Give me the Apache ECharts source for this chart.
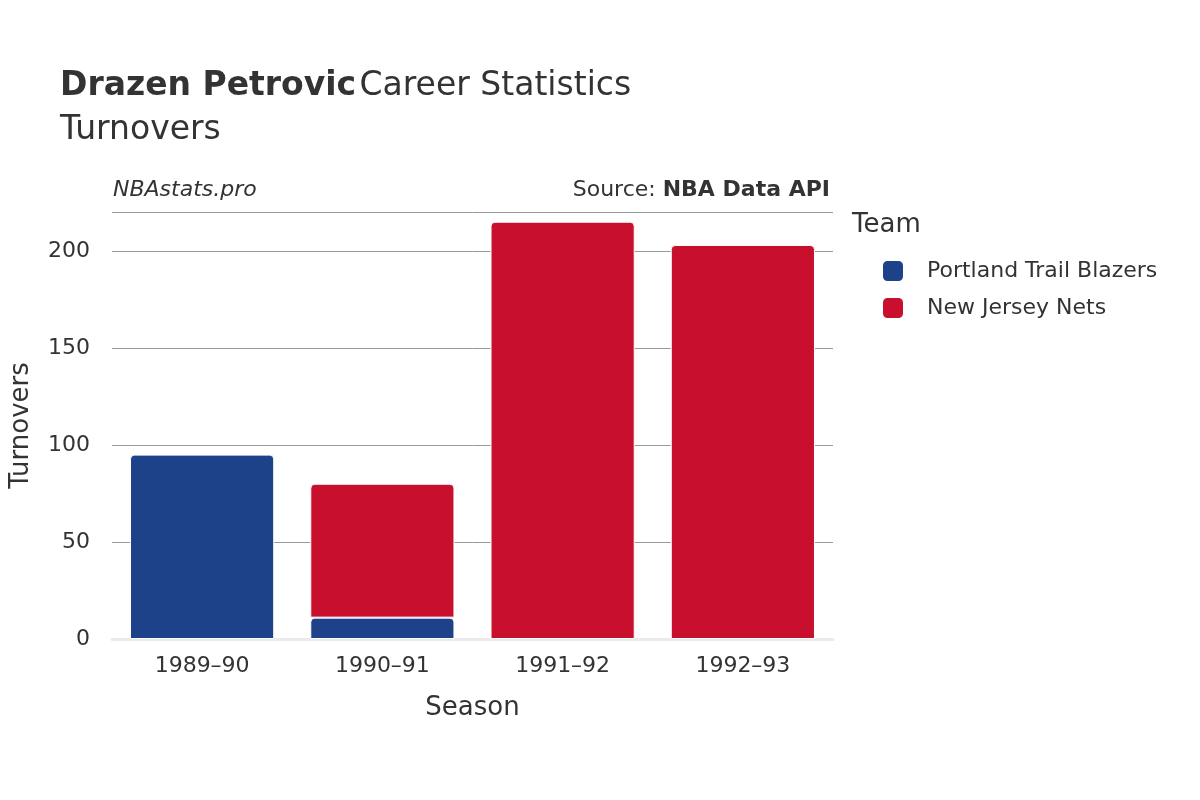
<!DOCTYPE html>
<html style="height: 100%">
<head>
  <meta charset="utf-8">
  <script src="https://cdn.jsdelivr.net/npm/echarts@6/dist/echarts.min.js"></script>
  <style>
    body { height: 100%; margin: 0; background: #fff; }
  </style>
</head>
<body>
  <div id="chart" style="width:1200px;height:800px;"></div>
  <script>
    var seasons = ['1989–90', '1990–91', '1991–92', '1992–93'];
    var portland = [95, 11, null, null];
    var nets = [null, 69, 215, 203];
    var yTicks = [0, 50, 100, 150, 200];

    var font = '"DejaVu Sans", sans-serif';
    var chart = echarts.init(document.getElementById('chart'));
    var barStyle = function (color) {
      return { color: color, borderColor: '#fff', borderWidth: 1, borderRadius: [4, 4, 0, 0] };
    };
    chart.setOption({
      animation: false,
      textStyle: { fontFamily: font },
      grid: { left: 108, right: 367, top: 212, bottom: 161 },
      xAxis: {
        type: 'category', data: seasons,
        name: 'Season', nameLocation: 'middle', nameGap: 56,
        nameTextStyle: { fontSize: 26, color: '#333' },
        axisLine: { lineStyle: { color: '#ebebeb', width: 3 } },
        axisTick: { show: false },
        axisLabel: { fontSize: 22, color: '#333', margin: 16 }
      },
      yAxis: {
        type: 'value', min: 0, max: 220, interval: 50,
        name: 'Turnovers', nameLocation: 'middle', nameGap: 78,
        nameTextStyle: { fontSize: 26, color: '#333' },
        axisLabel: { fontSize: 22, color: '#333', margin: 22,
          formatter: function (v) { return yTicks.indexOf(v) >= 0 ? v : ''; } },
        splitLine: { lineStyle: { color: '#999' } }
      },
      legend: {
        orient: 'vertical', left: 876, top: 254, itemGap: 13,
        itemWidth: 22, itemHeight: 22, icon: 'roundRect',
        textStyle: { fontSize: 22, color: '#333', padding: [0, 0, 0, 18] },
        data: ['Portland Trail Blazers', 'New Jersey Nets']
      },
      graphic: [
        { type: 'text', left: 60, top: 70, style: { rich: {
          b: { fontWeight: 'bold', fontSize: 33, fill: '#333', fontFamily: font },
          n: { fontSize: 33, fill: '#333', fontFamily: font } },
          text: '{b|Drazen Petrovic} {n|Career Statistics}' } },
        { type: 'text', left: 60, top: 114, style: { text: 'Turnovers', fontSize: 33, fill: '#333', fontFamily: font } },
        { type: 'text', left: 113, top: 179, style: { text: 'NBAstats.pro', fontSize: 22, fontStyle: 'italic', fill: '#333', fontFamily: font } },
        { type: 'text', right: 370, top: 179, style: { rich: {
          n: { fontSize: 22, fill: '#333', fontFamily: font },
          b: { fontSize: 22, fontWeight: 'bold', fill: '#333', fontFamily: font } },
          text: '{n|Source: }{b|NBA Data API}' } },
        { type: 'text', left: 852, top: 212, style: { text: 'Team', fontSize: 26, fill: '#333', fontFamily: font } }
      ],
      series: [
        { name: 'Portland Trail Blazers', type: 'bar', stack: 't', data: portland,
          barCategoryGap: '20%', itemStyle: barStyle('#1d428a') },
        { name: 'New Jersey Nets', type: 'bar', stack: 't', data: nets,
          itemStyle: barStyle('#c8102e') }
      ]
    });
  </script>
</body>
</html>
